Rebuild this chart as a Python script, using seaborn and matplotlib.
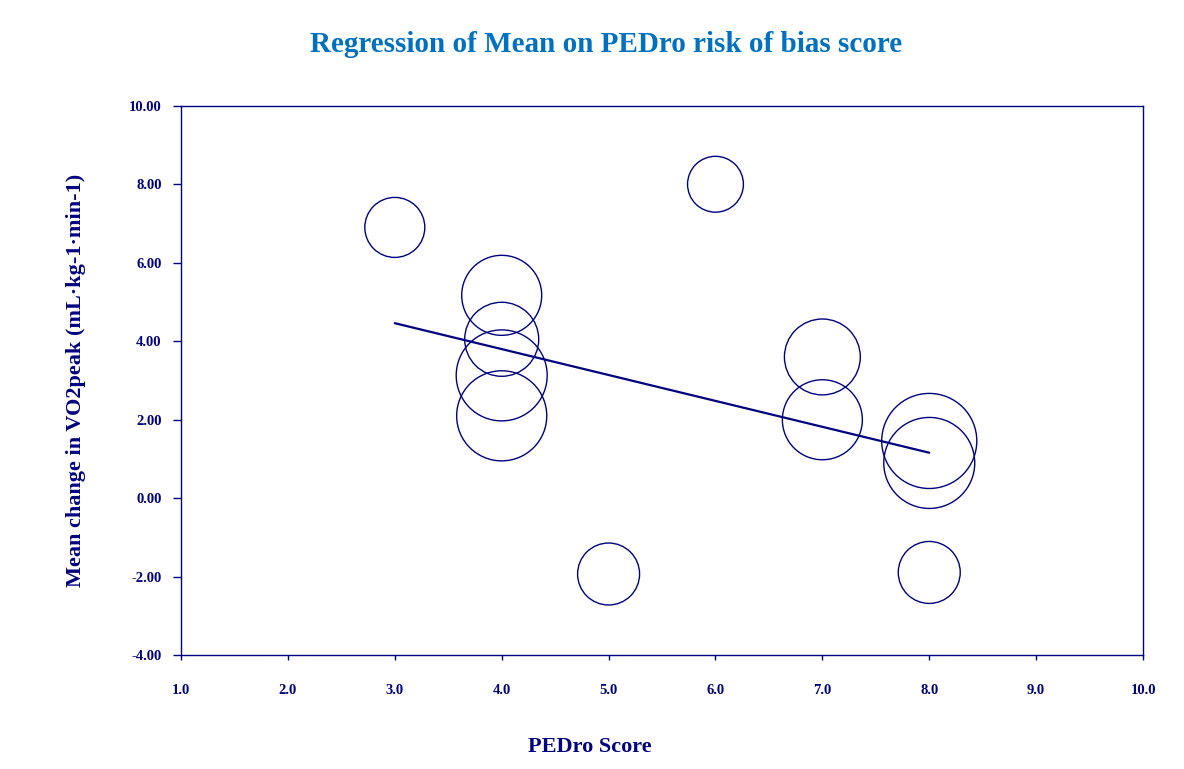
import matplotlib
matplotlib.use("Agg")
import matplotlib.pyplot as plt
import seaborn as sns
import numpy as np
import pandas as pd

# Study-level data: PEDro score, mean change in VO2peak, relative study weight
pedro_score = [3, 4, 4, 4, 4, 5, 6, 7, 7, 8, 8, 8]
mean_change = [6.90, 5.17, 4.05, 3.13, 2.10, -1.93, 8.00, 3.60, 2.00, 1.46, 0.90, -1.89]
study_weight = [9.0, 16.0, 13.7, 20.7, 20.3, 9.6, 7.8, 14.4, 16.0, 22.6, 20.7, 9.6]

# Meta-regression fit (mean change = intercept + slope * score)
reg_intercept = 6.44
reg_slope = -0.66
reg_range = [3.0, 8.0]

x_ticks = [1.0, 2.0, 3.0, 4.0, 5.0, 6.0, 7.0, 8.0, 9.0, 10.0]
y_ticks = [-4.0, -2.0, 0.0, 2.0, 4.0, 6.0, 8.0, 10.0]

NAVY = "#000080"
TITLE_BLUE = "#0070C0"

sns.set_theme(style="white")
plt.rcParams["font.family"] = ["Liberation Serif", "DejaVu Serif"]

df = pd.DataFrame({"score": pedro_score, "mean": mean_change, "weight": study_weight})

fig = plt.figure(figsize=(11.84, 7.69), dpi=100)
ax = fig.add_axes([0.1529, 0.1479, 0.8125, 0.7146])

# bubble area proportional to study weight
area_per_weight = 207.36
wmin, wmax = min(study_weight), max(study_weight)
sns.scatterplot(
    data=df, x="score", y="mean", size="weight",
    sizes=(wmin * area_per_weight, wmax * area_per_weight),
    size_norm=(wmin, wmax),
    facecolor="none", edgecolor=NAVY, linewidth=1.0,
    legend=False, ax=ax, zorder=3,
)

xs = np.array(reg_range)
sns.lineplot(x=xs, y=reg_intercept + reg_slope * xs, color=NAVY, linewidth=1.6, ax=ax, zorder=4)

ax.set_xlim(x_ticks[0], x_ticks[-1])
ax.set_ylim(y_ticks[0], y_ticks[-1])
ax.set_xticks(x_ticks)
ax.set_yticks(y_ticks)
ax.set_xticklabels([f"{v:.1f}" for v in x_ticks])
ax.set_yticklabels([f"{v:.2f}" for v in y_ticks])

for side in ["left", "right", "top", "bottom"]:
    ax.spines[side].set_visible(True)
    ax.spines[side].set_color(NAVY)
    ax.spines[side].set_linewidth(1.0)

ax.tick_params(axis="y", direction="out", length=6, width=1, color=NAVY, pad=8,
               labelsize=10.5, labelcolor=NAVY, left=True)
ax.tick_params(axis="x", direction="out", length=3.6, width=1, color=NAVY, pad=17,
               labelsize=10.5, labelcolor=NAVY, bottom=True)
for lab in ax.get_xticklabels() + ax.get_yticklabels():
    lab.set_fontweight("bold")

ax.set_xlabel("")
ax.set_ylabel("")
ax.grid(False)

fig.text(0.512, 0.942, "Regression of Mean on PEDro risk of bias score",
         ha="center", va="center", fontsize=21, fontweight="bold", color=TITLE_BLUE)
fig.text(0.498, 0.029, "PEDro Score", ha="center", va="center",
         fontsize=16, fontweight="bold", color=NAVY)
fig.text(0.064, 0.506, "Mean change in VO2peak (mL\u00b7kg-1\u00b7min-1)", ha="center", va="center",
         rotation=90, fontsize=16, fontweight="bold", color=NAVY)

fig.savefig("out.png", dpi=100, facecolor="white")
